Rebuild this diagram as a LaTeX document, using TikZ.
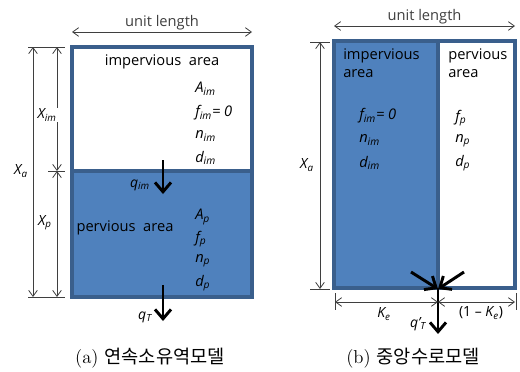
\documentclass[tikz,border=0pt]{standalone}
\usepackage{fontspec}
\setsansfont{Open Sans}
\newfontfamily\krfont{Noto Sans CJK KR}
\usepackage{tikz}
\usetikzlibrary{
  positioning,
  arrows.meta
}
\definecolor{areablue}{HTML}{4F81BD}
\definecolor{edgeblue}{HTML}{3A5F8C}
\definecolor{dimgray}{HTML}{3F3F3F}
\tikzset{
  dimline/.style={{Straight Barb[length=4.5pt,width=6.5pt]}-{Straight Barb[length=4.5pt,width=6.5pt]},dimgray,line width=0.6pt},
  tickline/.style={dimgray,line width=0.6pt},
  flow/.style={-{Straight Barb[length=7pt,width=12pt]},line width=2.2pt},
  area/.style={draw=edgeblue,line width=2.4pt},
  param/.style={font=\sffamily\itshape\fontsize{11}{13}\selectfont,anchor=west,inner sep=0pt},
  symb/.style={font=\sffamily\itshape\fontsize{10.5}{12}\selectfont,inner sep=1pt},
  areatext/.style={font=\sffamily\fontsize{11}{13.5}\selectfont,align=left,inner sep=0pt},
  caption/.style={font=\fontsize{14}{16}\selectfont}
}
\newcommand{\ssub}[2]{#1\textsubscript{#2}}

\begin{document}
\begin{tikzpicture}[x=0.75pt,y=-0.75pt]
    \useasboundingbox (0,0) rectangle (520,371);

    % (a) left model
    \coordinate (aTL) at (72,47);
    \coordinate (aMR) at (252,171);
    \coordinate (aML) at (72,171);
    \coordinate (aBR) at (252,297);
    \filldraw[area,fill=white] (aTL) rectangle (aMR);
    \filldraw[area,fill=areablue] (aML) rectangle (aBR);

    \coordinate (aU1) at (72,32);
    \coordinate (aU2) at (252,32);
    \draw[dimline] (aU1) -- node[above=1pt,areatext] (aunit) {unit length} (aU2);

    \coordinate (aT1) at (28,47);  \coordinate (aT2) at (65,47);
    \coordinate (aM1) at (48,171); \coordinate (aM2) at (65,171);
    \coordinate (aB1) at (28,297); \coordinate (aB2) at (65,297);
    \draw[tickline] (aT1) -- (aT2);
    \draw[tickline] (aM1) -- (aM2);
    \draw[tickline] (aB1) -- (aB2);
    \draw[dimline] (33,47) -- (33,297);
    \draw[dimline] (57,47) -- (57,171);
    \draw[dimline] (57,171) -- (57,297);
    \node[symb,fill=white] (xim) at (47,115) {\ssub{X}{im}};
    \node[symb,fill=white] (xa) at (21,171) {\ssub{X}{a}};
    \node[symb,fill=white] (xp) at (45,223) {\ssub{X}{p}};

    \node[areatext] (aimp) at (162,62) {impervious\ \ area};
    \node[param] (aAim) at (195,89) {\ssub{A}{im}};
    \node[param] (afim) at (195,113) {\ssub{f}{im}= 0};
    \node[param] (anim) at (195,136) {\ssub{n}{im}};
    \node[param] (adim) at (195,158) {\ssub{d}{im}};

    \coordinate (aqi1) at (163,160);
    \coordinate (aqi2) at (163,194);
    \draw[flow] (aqi1) -- (aqi2);
    \node[symb] (aqim) at (140,185) {\ssub{q}{im}};

    \node[areatext] (aper) at (125,228) {pervious\ \ area};
    \node[param] (aAp) at (195,217) {\ssub{A}{p}};
    \node[param] (afp) at (195,239) {\ssub{f}{p}};
    \node[param] (anp) at (195,261) {\ssub{n}{p}};
    \node[param] (adp) at (195,283) {\ssub{d}{p}};

    \coordinate (aqt1) at (163,285);
    \coordinate (aqt2) at (163,321);
    \draw[flow] (aqt1) -- (aqt2);
    \node[symb] (aqT) at (145,317) {\ssub{q}{T}};

    \node[caption] (acap) at (150,358) {(a)\ \krfont 연속소유역모델};

    % (b) central channel model
    \coordinate (bTL) at (334,41);
    \coordinate (bTM) at (438,41);
    \coordinate (bBM) at (438,288);
    \coordinate (bBR) at (515,288);
    \filldraw[area,fill=white] (bTM) rectangle (bBR);
    \filldraw[area,fill=areablue] (bTL) rectangle (bBM);

    \coordinate (bU1) at (334,26);
    \coordinate (bU2) at (515,26);
    \draw[dimline] (bU1) -- node[above=1pt,areatext] (bunit) {unit length} (bU2);

    \coordinate (bT1) at (310,42);  \coordinate (bT2) at (330,42);
    \coordinate (bB1) at (310,289); \coordinate (bB2) at (330,289);
    \draw[tickline] (bT1) -- (bT2);
    \draw[tickline] (bB1) -- (bB2);
    \draw[dimline] (320,42) -- (320,289);
    \node[symb,fill=white] (bxa) at (307,165) {\ssub{X}{a}};

    \node[areatext,anchor=north west] (bimp) at (343,48) {impervious\\area};
    \node[areatext,anchor=north west] (bper) at (448,48) {pervious\\area};
    \node[param] (bfim) at (359,116) {\ssub{f}{im}= 0};
    \node[param] (bnim) at (359,140) {\ssub{n}{im}};
    \node[param] (bdim) at (359,163) {\ssub{d}{im}};
    \node[param] (bfp) at (455,118) {\ssub{f}{p}};
    \node[param] (bnp) at (455,141) {\ssub{n}{p}};
    \node[param] (bdp) at (455,163) {\ssub{d}{p}};

    \coordinate (bout) at (438,289);
    \coordinate (bqL) at (411,272);
    \coordinate (bqR) at (464,272);
    \coordinate (bqD) at (438,334);
    \draw[flow] (bqL) -- (bout);
    \draw[flow] (bqR) -- (bout);
    \draw[flow] (bout) -- (bqD);

    \coordinate (bK1) at (335,302);
    \coordinate (bK2) at (515,302);
    \draw[tickline] (335,293) -- (335,310);
    \draw[tickline] (516,293) -- (516,310);
    \draw[dimline] (bK1) -- (bout |- bK1);
    \draw[dimline] (bout |- bK1) -- (bK2);
    \node[symb] (bKe) at (384,314) {\ssub{K}{e}};
    \node[symb] (bKr) at (481,313) {\upshape(1 – \itshape\ssub{K}{e}\upshape)};
    \node[symb] (bqT) at (418,324) {\ssub{q'}{T}};

    \node[caption] (bcap) at (413,358) {(b)\ \krfont 중앙수로모델};
\end{tikzpicture}
\end{document}
